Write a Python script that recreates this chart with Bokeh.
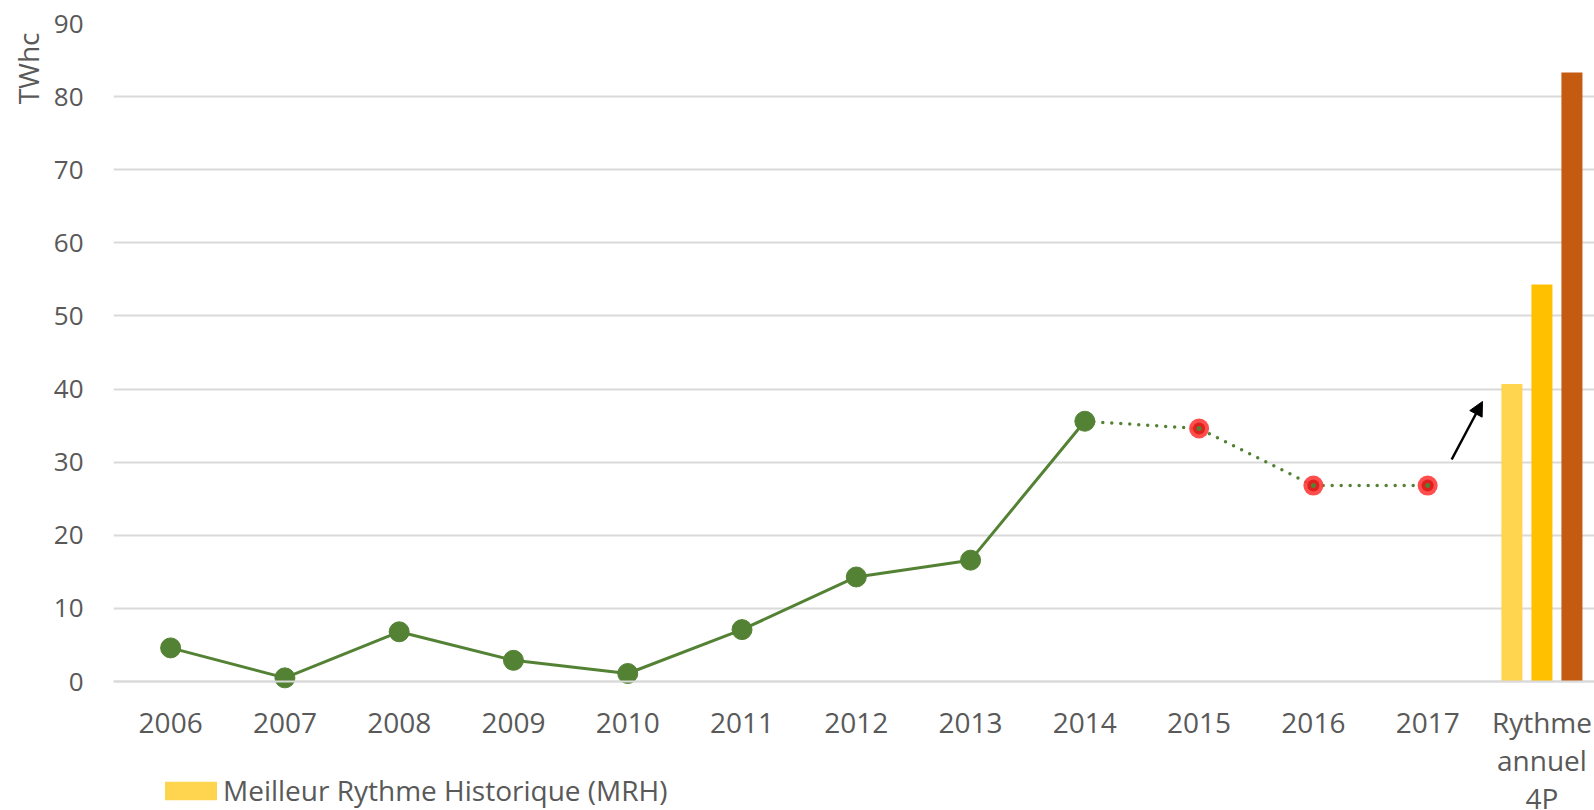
from bokeh.plotting import figure
from bokeh.models import (FixedTicker, Range1d, Legend, LegendItem, Arrow, NormalHead,
                          Title, ColumnDataSource)
from bokeh.embed import file_html
from bokeh.resources import INLINE

# ---- data ----
years = ["2006", "2007", "2008", "2009", "2010", "2011", "2012", "2013",
         "2014", "2015", "2016", "2017"]
extra_label = "Rythme\nannuel\n4P"
actual_years = years[:9]                       # 2006-2014, solid line
actual_values = [4.6, 0.5, 6.8, 2.9, 1.1, 7.1, 14.3, 16.6, 35.6]
estimate_years = years[8:]                     # 2014-2017, dotted line
estimate_values = [35.6, 34.6, 26.8, 26.8]
bar_names = ["Meilleur Rythme Historique (MRH)", "Rythme 2", "Rythme 3"]
bar_values = [40.7, 54.3, 83.3]
bar_colors = ["#FFD54F", "#FFC000", "#C55A11"]
y_ticks = [0, 10, 20, 30, 40, 50, 60, 70, 80, 90]

GREEN = "#548235"
TEXT = "#595959"
FONT = "Open Sans"

all_labels = years + [extra_label]
idx = {lab: i for i, lab in enumerate(all_labels)}

p = figure(width=1594, height=810, output_backend="svg", toolbar_location=None,
           x_range=Range1d(-0.5, 12.46), y_range=Range1d(-17.64, 90),
           min_border_left=113, min_border_right=0, min_border_top=23,
           min_border_bottom=0)
p.outline_line_color = None
p.background_fill_color = "white"
p.border_fill_color = "white"

# grid
p.xgrid.grid_line_color = None
p.ygrid.grid_line_color = "#D9D9D9"
p.ygrid.grid_line_width = 2
p.ygrid.ticker = FixedTicker(ticks=y_ticks)

# y axis
p.yaxis.ticker = FixedTicker(ticks=y_ticks)
p.yaxis.axis_line_color = None
p.yaxis.major_tick_line_color = None
p.yaxis.minor_tick_line_color = None
p.yaxis.major_tick_in = 0
p.yaxis.major_tick_out = 0
p.yaxis.major_label_standoff = 30
p.yaxis.major_label_text_font = FONT
p.yaxis.major_label_text_font_size = "26px"
p.yaxis.major_label_text_color = TEXT

# x axis, drawn on the y=0 line
p.xaxis.fixed_location = 0
p.xaxis.ticker = FixedTicker(ticks=list(range(len(all_labels))))
p.xaxis.major_label_overrides = {i: lab for i, lab in enumerate(all_labels)}
p.xaxis.axis_line_color = "#D9D9D9"
p.xaxis.axis_line_width = 2
p.xaxis.major_tick_line_color = None
p.xaxis.minor_tick_line_color = None
p.xaxis.major_tick_in = 0
p.xaxis.major_tick_out = 0
p.xaxis.major_label_standoff = 21
p.xaxis.major_label_text_font = FONT
p.xaxis.major_label_text_font_size = "28px"
p.xaxis.major_label_text_color = TEXT
p.xaxis.major_label_text_line_height = 1.0

# y axis title at top-left
p.add_layout(Title(text="TWhc", align="right", text_font=FONT, text_font_size="28px",
                   text_font_style="normal", text_color=TEXT, offset=9, standoff=8),
             "left")

# solid line
xa = [idx[y] for y in actual_years]
p.line(xa, actual_values, line_color=GREEN, line_width=3)
p.scatter(xa, actual_values, size=20, fill_color=GREEN, line_color=GREEN)

# dotted estimate line
xe = [idx[y] for y in estimate_years]
p.line(xe, estimate_values, line_color=GREEN, line_width=3.5, line_dash="0 9",
       line_cap="round")
p.scatter(xe[1:], estimate_values[1:], size=20, fill_color="#FF3B3B", line_color=None,
          fill_alpha=0.9)
p.scatter(xe[1:], estimate_values[1:], size=12, fill_color="#E0201C", line_color=None)
p.scatter(xe[1:], estimate_values[1:], size=5, fill_color=GREEN, line_color=None)

# bars
bw = 0.184
offs = [-0.2626, 0.0, 0.2626]
bar_src = ColumnDataSource(dict(x=[idx[extra_label] + o for o in offs], top=bar_values,
                                color=bar_colors, name=bar_names))
rb = p.vbar(x="x", top="top", width=bw, bottom=0, fill_color="color", line_color=None,
            source=bar_src)

# arrow
p.add_layout(Arrow(x_start=11.21, y_start=30.37, x_end=11.48, y_end=38.3,
                   line_color="black", line_width=2.5,
                   end=NormalHead(size=14, fill_color="black", line_color="black")))

legend = Legend(items=[LegendItem(label=bar_names[0], renderers=[rb], index=0)],
                location=(45, 1), orientation="horizontal",
                glyph_width=65, glyph_height=23, label_text_font=FONT,
                label_text_font_size="28px", label_text_color=TEXT,
                border_line_color=None, background_fill_alpha=0,
                margin=0, padding=0, label_standoff=0)
p.add_layout(legend, "center")

open("out.html", "w").write(file_html(p, INLINE))
